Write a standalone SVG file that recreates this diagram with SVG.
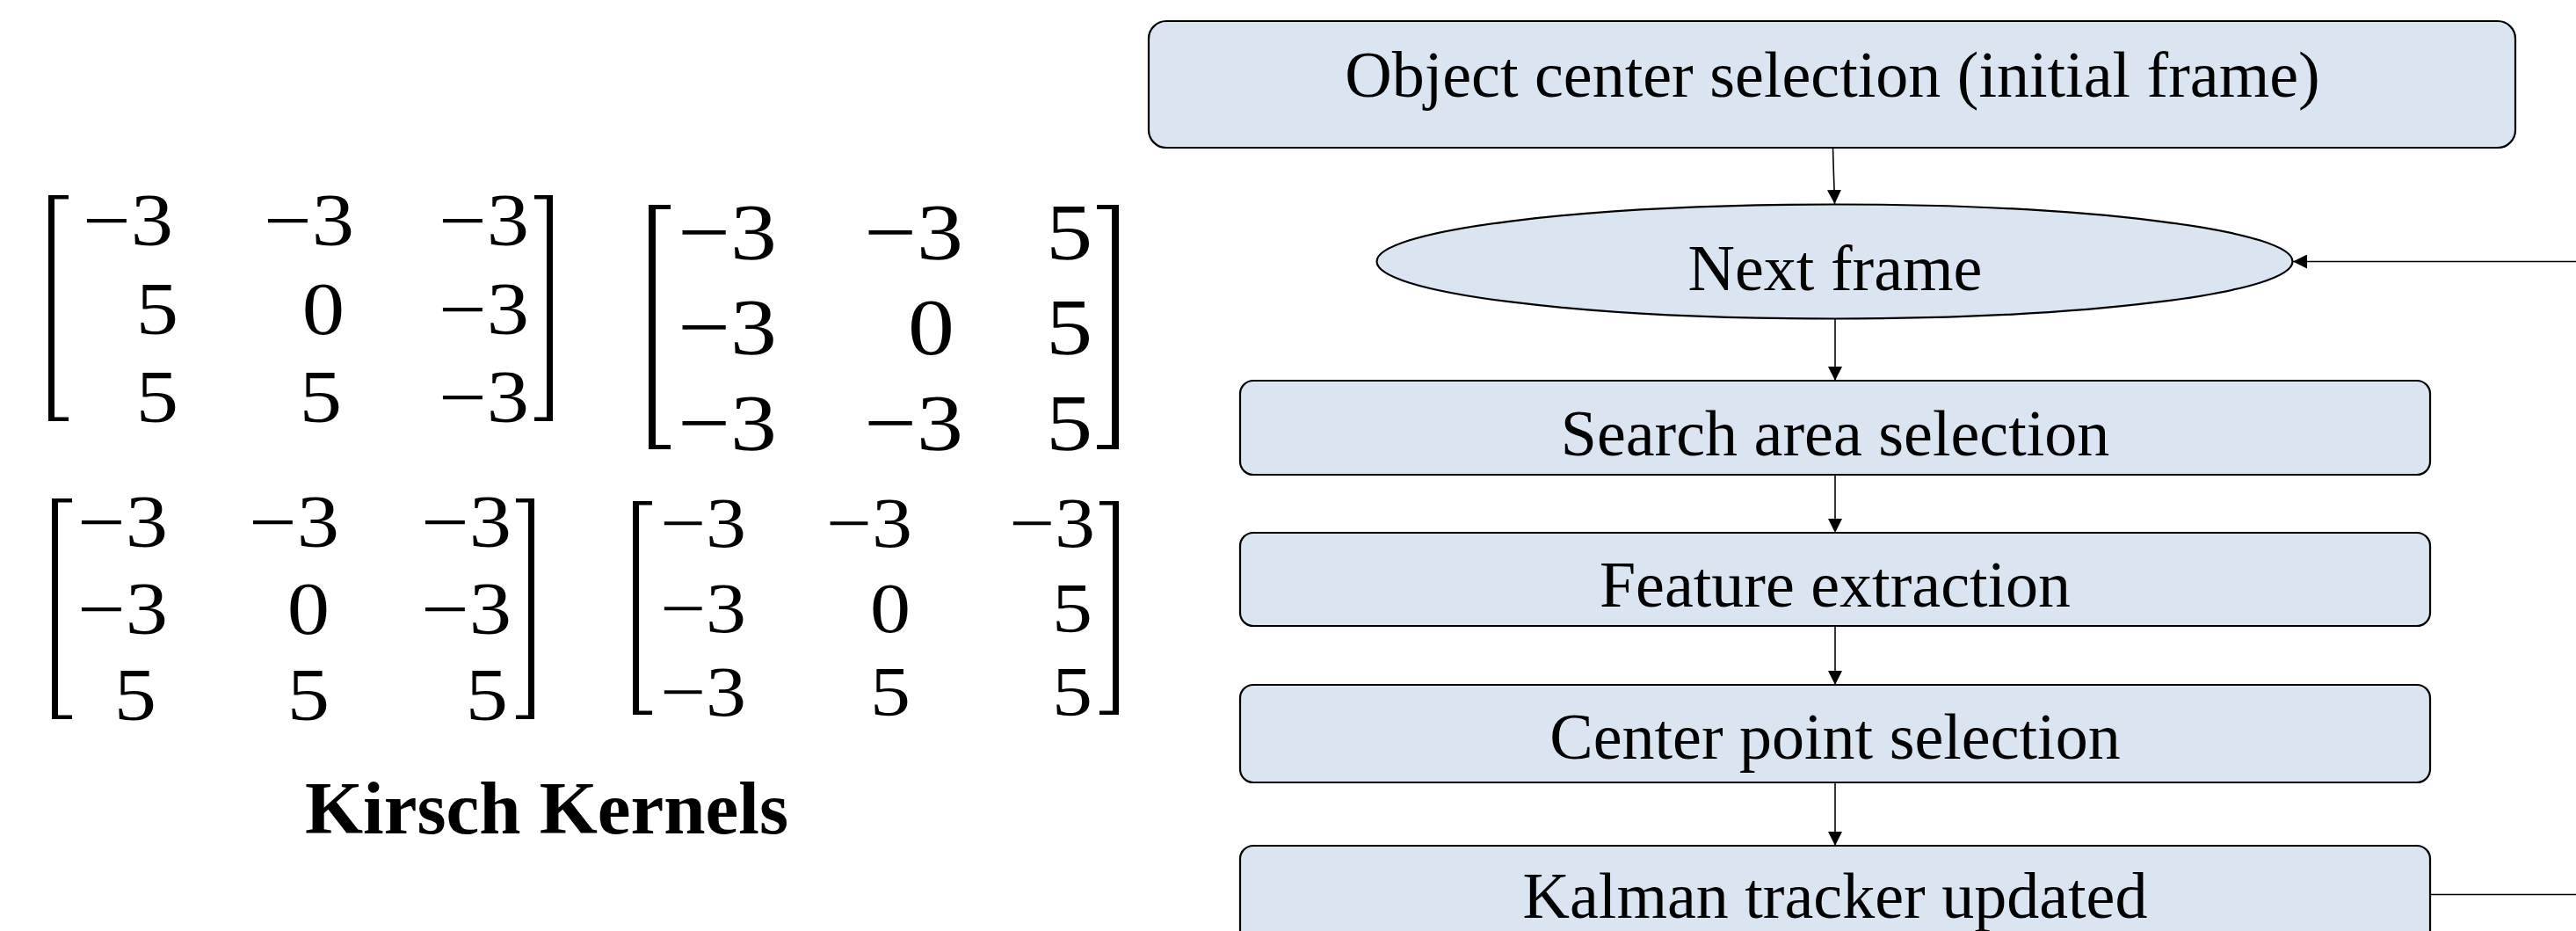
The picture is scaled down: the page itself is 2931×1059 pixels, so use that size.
<svg xmlns="http://www.w3.org/2000/svg" width="2931" height="1059" viewBox="0 0 2931 1059">
<style>
  .node { fill: #dbe5f1; stroke: #000; stroke-width: 2.2; }
  .lbl { font-family: "Liberation Serif", "Times New Roman", serif; font-size: 74px; fill: #000; text-anchor: middle; }
  .m { font-family: "Liberation Serif", "Times New Roman", serif; fill: #000; text-anchor: end; }
  .br { fill: #000; }
  .conn { stroke: #000; stroke-width: 1.6; fill: none; }
  .title { font-family: "Liberation Serif", "Times New Roman", serif; font-size: 85px; font-weight: bold; fill: #000; text-anchor: middle; }
</style>
<defs>
  <marker id="arr" markerUnits="userSpaceOnUse" markerWidth="16" markerHeight="16" viewBox="0 0 16 16" refX="16" refY="8" orient="auto">
    <path d="M0,0 L16,8 L0,16 Z" fill="#000"/>
  </marker>
</defs>
<rect width="2931" height="1059" fill="#fff"/>

<g id="kernel1">
  <path class="br" d="M55,222 H78 V226.5 H62 V474.5 H78 V479 H55 Z"/>
  <path class="br" d="M629,222 H608 V226.5 H622 V474.5 H608 V479 H629 Z"/>
  <g class="m" font-size="84" transform="scale(1.15,1)">
    <text x="171.3" y="279">−3</text><text x="350.4" y="279">−3</text><text x="523.5" y="279">−3</text>
    <text x="176.5" y="380">5</text><text x="340.9" y="380">0</text><text x="523.5" y="380">−3</text>
    <text x="176.5" y="480">5</text><text x="338.3" y="480">5</text><text x="523.5" y="480">−3</text>
  </g>
</g>

<g id="kernel2">
  <path class="br" d="M738,233 H763 V238 H746 V506 H763 V511 H738 Z"/>
  <path class="br" d="M1273,233 H1248 V238 H1265 V506 H1248 V511 H1273 Z"/>
  <g class="m" font-size="92" transform="scale(1.15,1)">
    <text x="768.7" y="295">−3</text><text x="953" y="295">−3</text><text x="1080.9" y="295">5</text>
    <text x="768.7" y="403">−3</text><text x="944.3" y="403">0</text><text x="1080.9" y="403">5</text>
    <text x="768.7" y="512">−3</text><text x="953" y="512">−3</text><text x="1080.9" y="512">5</text>
  </g>
</g>

<g id="kernel3">
  <path class="br" d="M59,567 H82 V571.5 H66 V813.5 H82 V818 H59 Z"/>
  <path class="br" d="M608,567 H587 V571.5 H601 V813.5 H587 V818 H608 Z"/>
  <g class="m" font-size="84" transform="scale(1.15,1)">
    <text x="166.1" y="622">−3</text><text x="335.7" y="622">−3</text><text x="506.1" y="622">−3</text>
    <text x="166.1" y="721">−3</text><text x="326.1" y="721">0</text><text x="506.1" y="721">−3</text>
    <text x="154.8" y="819">5</text><text x="326.1" y="819">5</text><text x="502.6" y="819">5</text>
  </g>
</g>

<g id="kernel4">
  <path class="br" d="M720,570 H742 V574.5 H727 V808.5 H742 V813 H720 Z"/>
  <path class="br" d="M1273,570 H1251 V574.5 H1266 V808.5 H1251 V813 H1273 Z"/>
  <g class="m" font-size="80" transform="scale(1.15,1)">
    <text x="738.3" y="622">−3</text><text x="902.6" y="622">−3</text><text x="1083.5" y="622">−3</text>
    <text x="738.3" y="719">−3</text><text x="900.9" y="719">0</text><text x="1080.9" y="719">5</text>
    <text x="738.3" y="814">−3</text><text x="900.9" y="814">5</text><text x="1080.9" y="814">5</text>
  </g>
</g>

<text class="title" x="622" y="948">Kirsch Kernels</text>

<g id="connectors">
  <line class="conn" x1="2085.5" y1="169" x2="2087.5" y2="232" marker-end="url(#arr)"/>
  <line class="conn" x1="2088" y1="362" x2="2088" y2="433" marker-end="url(#arr)"/>
  <line class="conn" x1="2088" y1="540" x2="2088" y2="606" marker-end="url(#arr)"/>
  <line class="conn" x1="2088" y1="712" x2="2088" y2="779" marker-end="url(#arr)"/>
  <line class="conn" x1="2088" y1="890" x2="2088" y2="962" marker-end="url(#arr)"/>
  <line class="conn" x1="2765" y1="1017.5" x2="2931" y2="1017.5"/>
  <line class="conn" x1="2931" y1="297.5" x2="2609" y2="297.5" marker-end="url(#arr)"/>
</g>

<g id="n-start">
  <rect class="node" x="1307" y="24" width="1555" height="144" rx="20" ry="20"/>
  <text class="lbl" x="2085" y="110">Object center selection (initial frame)</text>
</g>
<g id="n-next">
  <ellipse class="node" cx="2087.5" cy="297.5" rx="521" ry="65"/>
  <text class="lbl" x="2088" y="330">Next frame</text>
</g>
<g id="n-search">
  <rect class="node" x="1411" y="433" width="1354" height="107" rx="15" ry="15"/>
  <text class="lbl" x="2088" y="518">Search area selection</text>
</g>
<g id="n-feature">
  <rect class="node" x="1411" y="606" width="1354" height="106" rx="15" ry="15"/>
  <text class="lbl" x="2088" y="690">Feature extraction</text>
</g>
<g id="n-center">
  <rect class="node" x="1411" y="779" width="1354" height="111" rx="15" ry="15"/>
  <text class="lbl" x="2088" y="863">Center point selection</text>
</g>
<g id="n-kalman">
  <rect class="node" x="1411" y="962" width="1354" height="120" rx="15" ry="15"/>
  <text class="lbl" x="2088" y="1044">Kalman tracker updated</text>
</g>
</svg>
